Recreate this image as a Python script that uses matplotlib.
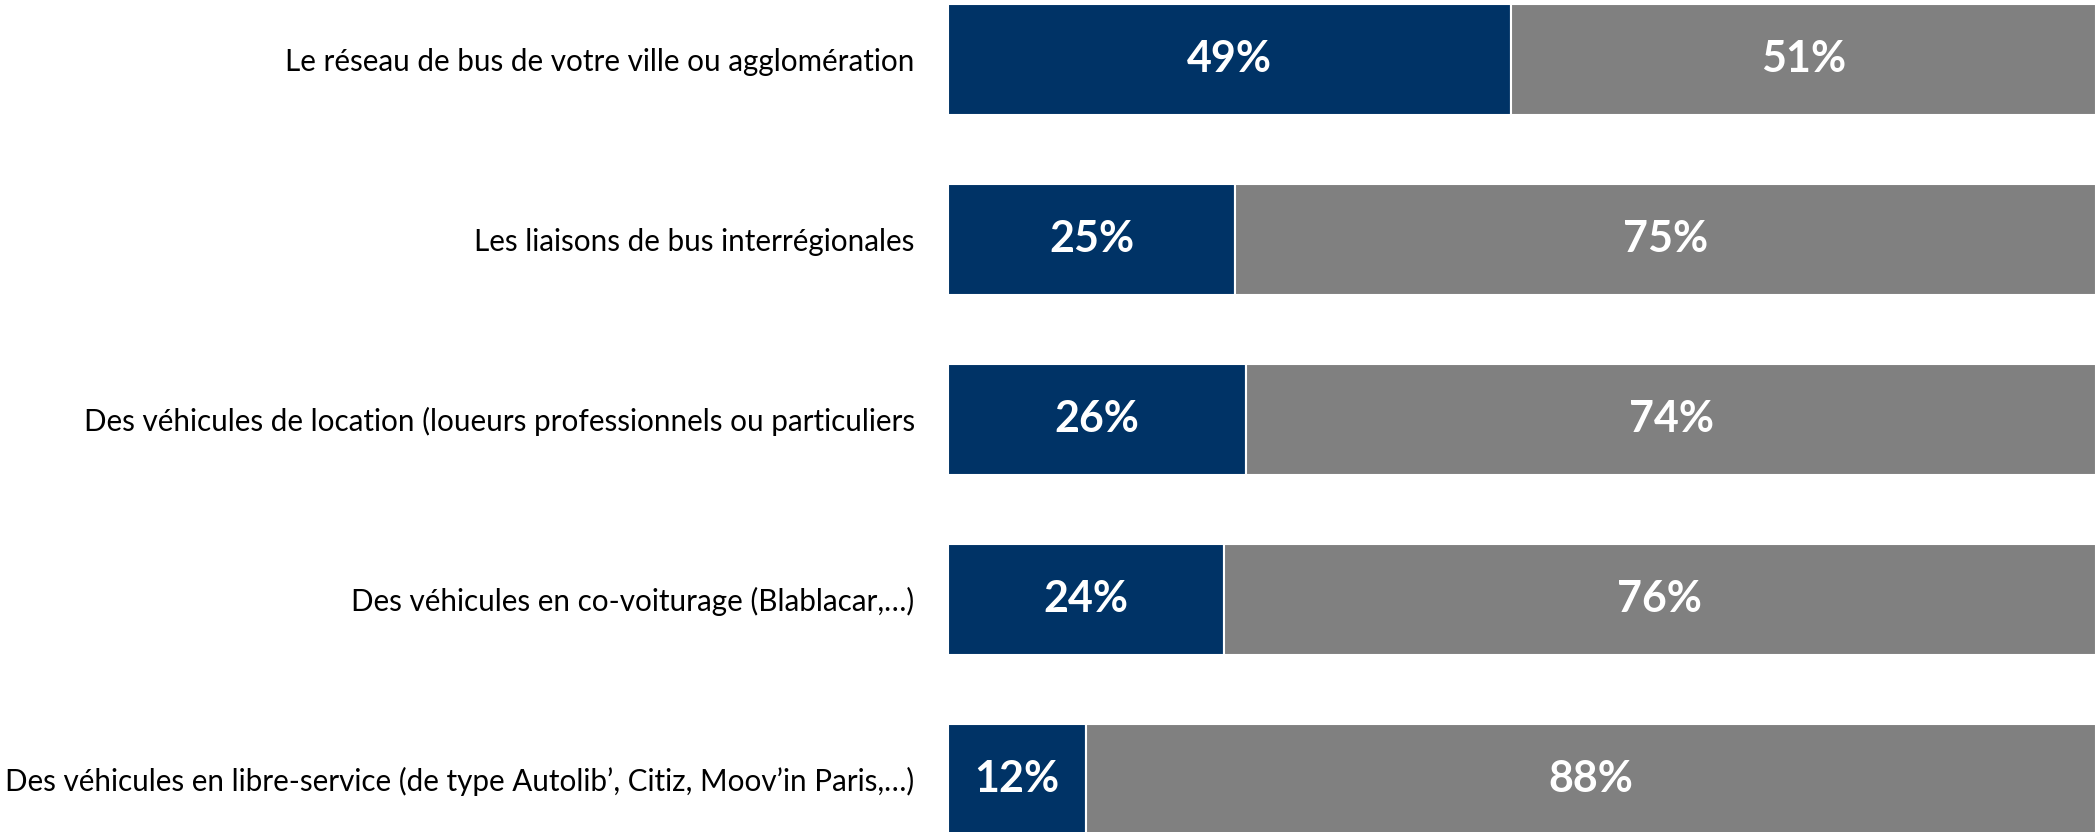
import numpy as np
import matplotlib.pyplot as plt

# categories and shares (first series = dark blue, second = grey)
categories = [
    "Le réseau de bus de votre ville ou agglomération",
    "Les liaisons de bus interrégionales",
    "Des véhicules de location (loueurs professionnels ou particuliers",
    "Des véhicules en co-voiturage (Blablacar,…)",
    "Des véhicules en libre-service (de type Autolib’, Citiz, Moov’in Paris,…)",
]
oui = [49, 25, 26, 24, 12]
non = [51, 75, 74, 76, 88]

blue = "#003366"
grey = "#808080"

fig = plt.figure(figsize=(20.96, 8.32), dpi=100)
ax = fig.add_axes([948 / 2096, 0, 1 - 948 / 2096, 1])

y = np.arange(len(categories))
h = 0.62
b1 = ax.barh(y, oui, height=h, color=blue, edgecolor="white", linewidth=1.5)
b2 = ax.barh(y, non, left=oui, height=h, color=grey, edgecolor="white", linewidth=1.5)

for bars in (b1, b2):
    for r in bars:
        ax.text(r.get_x() + r.get_width() / 2, r.get_y() + r.get_height() / 2,
                f"{int(r.get_width())}%", ha="center", va="center",
                color="white", fontsize=31, fontweight="bold", family="Lato")

ax.set_xlim(0, 100)
ax.set_ylim(-0.33 + 832 / 180, -0.33)
ax.set_yticks(y)
ax.set_yticklabels(categories, fontsize=21.3, family="Lato")
ax.tick_params(axis="y", length=0, pad=24)
ax.set_xticks([])
for s in ax.spines.values():
    s.set_visible(False)

fig.savefig("out.png", dpi=100)
